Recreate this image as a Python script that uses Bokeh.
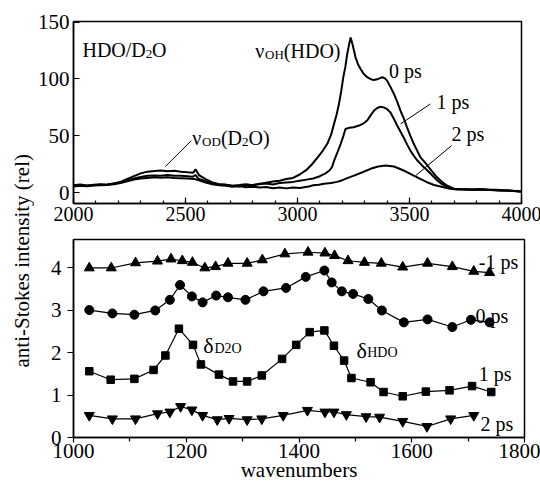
from bokeh.plotting import figure
from bokeh.models import FixedTicker, Label, Div, Range1d
from bokeh.layouts import row, column
from bokeh.embed import file_html
from bokeh.resources import INLINE

FONT = "Liberation Serif"

# ---------------- top panel: anti-Stokes spectra (wavenumber, intensity) ----------------
spec_0ps = [
    (2000, 6.5), (2030, 7.2), (2060, 6.4), (2090, 7.0), (2120, 7.5), (2150, 7.0), (2180, 8.2),
    (2210, 9.5), (2240, 12.0), (2270, 14.5), (2300, 17.0), (2330, 18.5), (2360, 19.0),
    (2390, 19.6), (2420, 18.8), (2450, 19.3), (2480, 18.5), (2510, 18.0), (2535, 17.6),
    (2545, 20.5), (2560, 15.5), (2590, 12.0), (2620, 9.0), (2650, 7.5), (2680, 7.0),
    (2710, 6.0), (2740, 5.5), (2770, 6.3), (2800, 6.8), (2830, 7.5), (2860, 8.8), (2890, 9.8),
    (2920, 10.5), (2950, 12.0), (2980, 13.0), (3010, 16.0), (3040, 20.0), (3065, 25.0),
    (3090, 31.0), (3110, 36.0), (3133, 43.0), (3150, 51.0), (3163, 60.5), (3175, 69.0),
    (3185, 78.0), (3195, 89.0), (3204, 101.0), (3214, 111.0), (3222, 122.0), (3230, 130.0),
    (3237, 136.5), (3245, 131.0), (3259, 119.0), (3270, 113.0), (3281, 109.0), (3295, 104.5),
    (3311, 101.5), (3325, 100.0), (3341, 99.0), (3360, 100.0), (3378, 101.5), (3390, 100.5),
    (3400, 98.5), (3415, 93.0), (3430, 87.0), (3445, 80.0), (3460, 72.0), (3475, 65.0),
    (3489, 57.5), (3504, 50.0), (3519, 43.0), (3534, 37.0), (3549, 31.0), (3565, 27.5),
    (3578, 24.5), (3600, 19.0), (3623, 13.5), (3645, 9.5), (3667, 6.3), (3697, 3.5),
    (3730, 3.0), (3770, 2.8), (3810, 3.2), (3850, 2.5), (3890, 2.6), (3930, 2.0),
    (3970, 1.5), (4000, 1.0),
]
spec_1ps = [
    (2000, 6.0), (2030, 6.8), (2060, 6.0), (2090, 6.6), (2120, 7.0), (2150, 7.2), (2180, 8.0),
    (2210, 9.0), (2240, 10.5), (2270, 12.5), (2300, 13.8), (2330, 14.8), (2360, 15.2),
    (2390, 15.0), (2420, 15.5), (2450, 15.0), (2480, 14.8), (2510, 14.5), (2530, 14.0),
    (2545, 15.5), (2560, 12.0), (2590, 10.0), (2620, 8.5), (2650, 7.5), (2680, 7.0),
    (2710, 6.2), (2740, 6.8), (2770, 7.5), (2800, 6.5), (2830, 7.8), (2860, 8.0), (2890, 7.2),
    (2920, 8.5), (2950, 9.0), (2980, 9.5), (3010, 10.5), (3040, 11.5), (3070, 12.5),
    (3100, 14.5), (3125, 17.0), (3145, 20.0), (3155, 23.0), (3163, 28.0), (3175, 34.0),
    (3193, 43.0), (3205, 50.0), (3214, 56.0), (3230, 57.0), (3250, 57.5), (3275, 59.0),
    (3295, 61.0), (3311, 63.5), (3325, 67.5), (3341, 72.0), (3356, 74.5), (3370, 75.5),
    (3385, 75.0), (3400, 73.5), (3415, 70.5), (3430, 65.0), (3445, 59.0), (3460, 53.5),
    (3474, 48.5), (3489, 42.5), (3504, 37.0), (3519, 32.5), (3534, 28.5), (3556, 24.0),
    (3578, 20.0), (3600, 15.5), (3623, 11.0), (3645, 7.5), (3667, 5.0), (3700, 3.2),
    (3740, 3.0), (3780, 2.5), (3820, 2.9), (3860, 2.4), (3900, 2.0), (3940, 2.2),
    (3970, 1.6), (4000, 1.0),
]
spec_2ps = [
    (2000, 5.5), (2030, 6.2), (2060, 5.6), (2090, 6.3), (2120, 6.5), (2150, 6.8), (2180, 7.5),
    (2210, 8.5), (2240, 10.0), (2270, 11.5), (2300, 12.5), (2330, 13.0), (2360, 13.5),
    (2390, 13.2), (2420, 13.6), (2450, 13.0), (2480, 12.8), (2510, 12.5), (2540, 12.0),
    (2560, 11.0), (2590, 9.0), (2620, 7.5), (2650, 6.5), (2680, 6.0), (2710, 5.2),
    (2740, 5.8), (2770, 4.8), (2800, 5.3), (2830, 4.5), (2860, 5.0), (2890, 4.0),
    (2920, 4.6), (2950, 3.8), (2980, 4.5), (3010, 4.2), (3029, 4.8), (3050, 5.5),
    (3070, 6.5), (3095, 7.0), (3118, 7.8), (3150, 8.5), (3177, 9.5), (3200, 11.0),
    (3225, 13.0), (3252, 15.0), (3290, 18.0), (3326, 21.0), (3360, 23.0), (3393, 24.0),
    (3430, 23.0), (3450, 21.5), (3474, 19.5), (3495, 17.5), (3519, 15.0), (3550, 12.0),
    (3578, 9.2), (3610, 6.8), (3652, 4.8), (3680, 3.5), (3712, 2.8), (3750, 3.0),
    (3790, 2.6), (3830, 2.8), (3870, 2.3), (3910, 2.0), (3950, 1.6), (4000, 0.8),
]
top_xticks = [2000, 2500, 3000, 3500, 4000]
top_xminor = list(range(2000, 4001, 100))
top_yticks = [0, 50, 100, 150]

# leader lines (annotation pointers) for the top panel labels
lead_x0 = [2526, 3593, 3688]
lead_y0 = [45.8, 78.0, 41.4]
lead_x1 = [2410, 3460, 3528]
lead_y1 = [23.0, 60.5, 15.1]

# ---------------- bottom panel: band intensities vs wavenumber ----------------
wn_m1ps = [1028, 1067, 1110, 1149, 1173, 1193, 1211, 1233, 1252, 1274, 1308, 1335, 1375,
           1416, 1446, 1463, 1487, 1516, 1546, 1584, 1628, 1672, 1710, 1738]
ai_m1ps = [3.99, 3.99, 4.11, 4.15, 4.20, 4.16, 4.12, 3.99, 4.02, 4.10, 4.10, 4.18, 4.32,
           4.36, 4.34, 4.28, 4.16, 4.12, 4.10, 4.01, 4.10, 4.02, 3.91, 3.88]

wn_0ps = [1028, 1069, 1108, 1145, 1171, 1189, 1210, 1229, 1253, 1274, 1305, 1337, 1377,
          1412, 1445, 1458, 1476, 1496, 1523, 1547, 1586, 1628, 1672, 1705, 1738]
ai_0ps = [3.00, 2.92, 2.89, 2.99, 3.24, 3.59, 3.32, 3.18, 3.34, 3.30, 3.24, 3.44, 3.52,
          3.78, 3.93, 3.65, 3.44, 3.38, 3.26, 2.99, 2.71, 2.78, 2.60, 2.77, 2.71]

wn_1ps = [1028, 1066, 1108, 1142, 1163, 1187, 1212, 1226, 1258, 1283, 1308, 1334, 1370,
          1395, 1419, 1445, 1462, 1480, 1493, 1527, 1550, 1584, 1625, 1667, 1707, 1741]
ai_1ps = [1.56, 1.36, 1.38, 1.59, 1.93, 2.56, 2.18, 1.72, 1.48, 1.32, 1.32, 1.46, 1.85,
          2.18, 2.48, 2.52, 2.16, 1.81, 1.40, 1.30, 1.07, 0.97, 1.08, 1.11, 1.21, 1.07]

wn_2ps = [1028, 1069, 1110, 1149, 1171, 1190, 1210, 1229, 1255, 1276, 1308, 1334, 1372,
          1415, 1446, 1462, 1484, 1519, 1543, 1584, 1627, 1669, 1710]
ai_2ps = [0.52, 0.44, 0.44, 0.56, 0.60, 0.73, 0.65, 0.52, 0.42, 0.45, 0.42, 0.44, 0.52,
          0.64, 0.60, 0.60, 0.54, 0.49, 0.48, 0.38, 0.26, 0.44, 0.52]

bot_xticks = [1000, 1200, 1400, 1600, 1800]
bot_xminor = [1100, 1300, 1500, 1700]
bot_yticks = [0, 1, 2, 3, 4]


def style(p):
    p.outline_line_color = "black"
    p.outline_line_width = 1.5
    p.outline_line_alpha = 1.0
    p.xgrid.visible = False
    p.ygrid.visible = False
    p.background_fill_color = "white"
    p.border_fill_color = "white"
    for ax in p.axis:
        ax.axis_line_color = "black"
        ax.axis_line_width = 1.5
        ax.major_tick_line_color = "black"
        ax.minor_tick_line_color = "black"
        ax.major_tick_line_width = 1.2
        ax.minor_tick_line_width = 1.2
        ax.major_label_text_font = FONT
        ax.major_label_text_font_size = "21px"
        ax.major_label_text_color = "black"


def lab(p, x, y, text, size="20px"):
    p.add_layout(Label(x=x, y=y, text=text, text_font=FONT, text_font_size=size,
                       text_color="black", text_baseline="alphabetic", text_align="left"))


# ---------------- top figure ----------------
p1 = figure(frame_width=448, frame_height=182, x_range=Range1d(2000, 4000),
            y_range=Range1d(-9.5, 150.5), output_backend="svg", toolbar_location=None,
            min_border_left=35, min_border_right=23, min_border_top=21, min_border_bottom=25)
style(p1)
p1.xaxis.ticker = FixedTicker(ticks=top_xticks, minor_ticks=top_xminor)
p1.yaxis.ticker = FixedTicker(ticks=top_yticks, minor_ticks=[])
p1.xaxis.major_label_text_font_size = "20px"
p1.xaxis.major_tick_in = 6
p1.xaxis.major_tick_out = 0
p1.xaxis.minor_tick_in = 3
p1.xaxis.minor_tick_out = 0
p1.xaxis.major_label_standoff = 3
p1.yaxis.major_tick_in = 6
p1.yaxis.major_tick_out = 0
p1.yaxis.minor_tick_in = 0
p1.yaxis.minor_tick_out = 0
p1.yaxis.major_label_standoff = 4

for spec in (spec_0ps, spec_1ps, spec_2ps):
    p1.line([s[0] for s in spec], [s[1] for s in spec], line_color="black", line_width=2)
p1.segment(x0=lead_x0, y0=lead_y0, x1=lead_x1, y1=lead_y1, line_color="black", line_width=1)

lab(p1, 2040, 125.7, "HDO/D")
lab(p1, 2322, 122.2, "2", "13px")
lab(p1, 2351, 125.7, "O")
lab(p1, 2811, 124.8, "\u03bd")
lab(p1, 2855, 121.3, "OH", "13px")
lab(p1, 2939, 124.8, "(HDO)")
lab(p1, 3408, 107.3, "0 ps")
lab(p1, 3621, 80.0, "1 ps")
lab(p1, 3688, 52.0, "2 ps")
lab(p1, 2530, 48.5, "\u03bd")
lab(p1, 2574, 45.0, "OD", "13px")
lab(p1, 2658, 48.5, "(D")
lab(p1, 2752, 45.0, "2", "13px")
lab(p1, 2781, 48.5, "O)")

# ---------------- bottom figure ----------------
p2 = figure(frame_width=451, frame_height=198, x_range=Range1d(1000, 1800),
            y_range=Range1d(0, 4.66), output_backend="svg", toolbar_location=None,
            min_border_left=33, min_border_right=22, min_border_top=11, min_border_bottom=44)
style(p2)
p2.xaxis.ticker = FixedTicker(ticks=bot_xticks, minor_ticks=bot_xminor)
p2.yaxis.ticker = FixedTicker(ticks=bot_yticks, minor_ticks=[])
p2.xaxis.major_tick_in = 0
p2.xaxis.major_tick_out = 5
p2.xaxis.minor_tick_in = 0
p2.xaxis.minor_tick_out = 4
p2.xaxis.major_label_standoff = 1
p2.xaxis.axis_label = "wavenumbers"
p2.xaxis.axis_label_text_font = FONT
p2.xaxis.axis_label_text_font_size = "21px"
p2.xaxis.axis_label_text_font_style = "normal"
p2.xaxis.axis_label_text_color = "black"
p2.xaxis.axis_label_standoff = -3
p2.yaxis.major_tick_in = 0
p2.yaxis.major_tick_out = 6
p2.yaxis.minor_tick_in = 0
p2.yaxis.minor_tick_out = 0
p2.yaxis.major_label_standoff = 6

series = [
    (wn_m1ps, ai_m1ps, "triangle", 10),
    (wn_0ps, ai_0ps, "circle", 9),
    (wn_1ps, ai_1ps, "square", 7.5),
    (wn_2ps, ai_2ps, "inverted_triangle", 10),
]
for xs, ys, mk, sz in series:
    p2.line(xs, ys, line_color="black", line_width=1.2)
    p2.scatter(xs, ys, marker=mk, size=sz, fill_color="black", line_color="black")

lab(p2, 1719, 4.12, "-1 ps")
lab(p2, 1713, 2.87, "0 ps")
lab(p2, 1719, 1.50, "1 ps")
lab(p2, 1722, 0.32, "2 ps")
lab(p2, 1230, 2.16, "\u03b4", "22px")
lab(p2, 1250, 2.09, "D2O", "14px")
lab(p2, 1502, 2.05, "\u03b4", "22px")
lab(p2, 1521, 1.99, "HDO", "14px")

# ---------------- shared y-axis title ----------------
ylab = Div(
    text=('<div style="position:absolute; left:10px; top:146px; width:24px; height:230px; '
          'display:flex; align-items:center; justify-content:center;">'
          '<span style="writing-mode:vertical-rl; transform:rotate(180deg); white-space:nowrap; '
          'font-family:\'Liberation Serif\'; font-size:21px; color:black;">'
          'anti-Stokes intensity (rel)</span></div>'),
    width=34, height=483, margin=0)

layout = row(ylab, column(p1, p2))

open("out.html", "w").write(file_html(layout, INLINE))
